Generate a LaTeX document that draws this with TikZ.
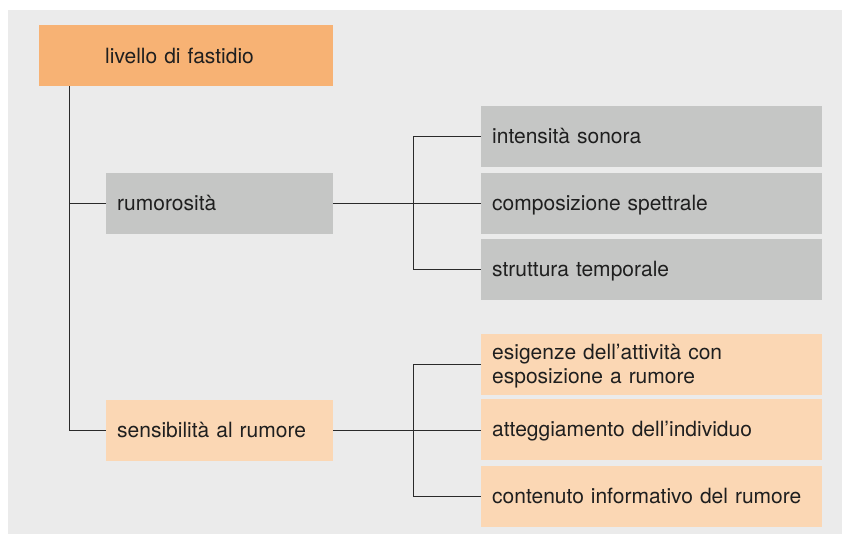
\documentclass[tikz,border=0pt]{standalone}
\usepackage{fontspec}
\setmainfont{TeX Gyre Heros}
\definecolor{bgc}{HTML}{EBEBEB}
\definecolor{orangetop}{HTML}{F7B274}
\definecolor{orangelt}{HTML}{FBD7B4}
\definecolor{grayb}{HTML}{C5C6C5}
\definecolor{linec}{HTML}{2A2A2A}
\begin{document}
\begin{tikzpicture}[x=1pt,y=-1pt,
  box/.style={anchor=north west, inner xsep=11pt, inner ysep=0pt, align=left,
    font=\fontsize{21}{24}\selectfont, text=black!88, text height=15pt, text depth=2pt},
  boxL/.style={box, minimum width=227pt, text width=205pt, minimum height=61pt},
  boxR/.style={box, minimum width=341pt, text width=319pt, minimum height=61pt},
  conn/.style={draw=linec, line width=0.9pt}]
\useasboundingbox (0,0) rectangle (842,535);
\fill[bgc] (8,10) rectangle (842,534);
\node[box, fill=orangetop, minimum width=294pt, text width=272pt, minimum height=61pt, text height=16pt, text depth=1pt] (top) at (39,25) {\hspace*{55pt}livello di fastidio};
\node[boxL, fill=grayb] (rum) at (106,173) {rumorosità};
\node[boxL, fill=orangelt] (sens) at (106,400) {sensibilità al rumore};
\node[boxR, fill=grayb] (int) at (481,106) {intensità sonora};
\node[boxR, fill=grayb] (comp) at (481,173) {composizione spettrale};
\node[boxR, fill=grayb] (strt) at (481,239) {struttura temporale};
\node[boxR, fill=orangelt, text depth=26pt] (esi) at (481,334) {esigenze dell’attività con\\esposizione a rumore};
\node[boxR, fill=orangelt] (att) at (481,399) {atteggiamento dell’individuo};
\node[boxR, fill=orangelt] (cont) at (481,466) {contenuto informativo del rumore};
\coordinate (trunk) at (69,86);
\coordinate (b1) at (413,0);
\coordinate (b2) at (413,0);
\draw[conn] (trunk) |- (sens.west);
\draw[conn] (rum.west) -- (rum.west -| trunk);
\draw[conn] (rum.east) -- (rum.east -| comp.west);
\draw[conn] (int.west) -- (int.west -| b1) -- (strt.west -| b1) -- (strt.west);
\draw[conn] (sens.east) -- (sens.east -| att.west);
\draw[conn] (esi.west) -- (esi.west -| b2) -- (cont.west -| b2) -- (cont.west);
\end{tikzpicture}
\end{document}
